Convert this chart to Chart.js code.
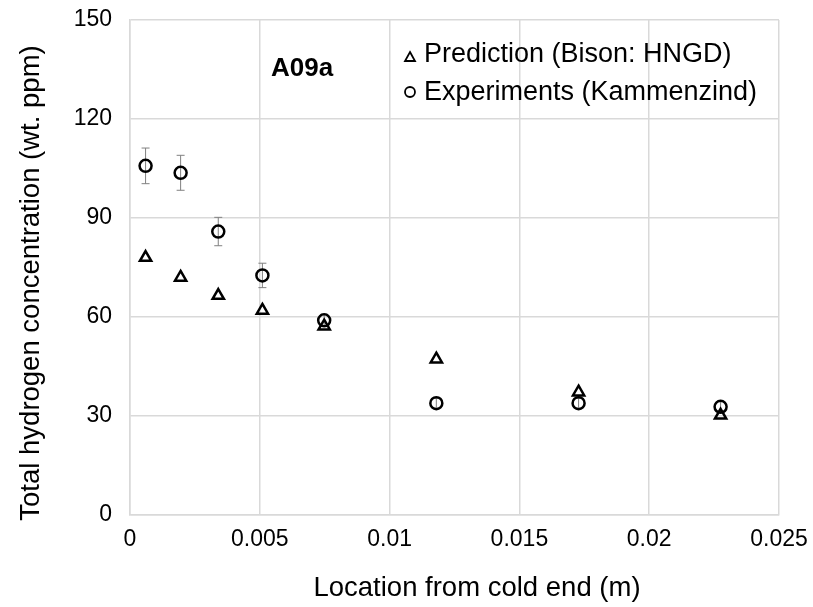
<!DOCTYPE html>
<html>
<head>
<meta charset="utf-8">
<script src="https://cdn.jsdelivr.net/npm/chart.js@4.4.1/dist/chart.umd.min.js"></script>
<style>
  html, body { margin: 0; padding: 0; background: #fff; }
  #wrap { width: 813px; height: 607px; }
</style>
</head>
<body>
<div id="wrap"><canvas id="chart"></canvas></div>
<script>
// Data
const locations = [0.0006, 0.00195, 0.0034, 0.0051, 0.00748, 0.0118, 0.01728, 0.02275]
const prediction = [78, 72, 66.5, 62, 57.2, 47.2, 37.2, 30.2]
const experiments = [105.8, 103.7, 85.9, 72.6, 59, 33.9, 33.9, 32.8]
const expError = [5.4, 5.3, 4.3, 3.7, 1.8, 1.5, 1.5, 1.5]
const xTicks = [0, 0.005, 0.01, 0.015, 0.02, 0.025]
const yTicks = [0, 30, 60, 90, 120, 150]
const xTitle = 'Location from cold end (m)'
const yTitle = 'Total hydrogen concentration (wt. ppm)'

const FONT = "'Liberation Sans', Arial, Helvetica, sans-serif"

toPoints = function(xs, ys){
  let pts = []
  for(let i = 0; i < xs.length; i++){
    pts.push({x: xs[i], y: ys[i]})
  }
  return pts
}

// error bars on the experiment points
const errorBars = {
  id: 'errorBars',
  beforeDatasetsDraw(chart){
    const ctx = chart.ctx
    const xs = chart.scales.x, ys = chart.scales.y
    ctx.save()
    ctx.strokeStyle = '#808080'
    ctx.lineWidth = 1
    for(let i = 0; i < locations.length; i++){
      const px = xs.getPixelForValue(locations[i])
      const top = ys.getPixelForValue(experiments[i] + expError[i])
      const bot = ys.getPixelForValue(experiments[i] - expError[i])
      ctx.beginPath()
      ctx.moveTo(px, top); ctx.lineTo(px, bot)
      ctx.moveTo(px - 4, top); ctx.lineTo(px + 4, top)
      ctx.moveTo(px - 4, bot); ctx.lineTo(px + 4, bot)
      ctx.stroke()
    }
    ctx.restore()
  }
}

// axis titles, label and legend
const annotations = {
  id: 'annotations',
  afterDraw(chart){
    const ctx = chart.ctx
    ctx.save()
    ctx.fillStyle = '#000'
    ctx.textBaseline = 'alphabetic'

    // axis titles (sit a bit off-centre in the reference)
    ctx.font = '27.5px ' + FONT
    ctx.textAlign = 'center'
    ctx.fillText(xTitle, 477, 596)
    ctx.save()
    ctx.translate(39, 283)
    ctx.rotate(-Math.PI / 2)
    ctx.fillText(yTitle, 0, 0)
    ctx.restore()

    ctx.textAlign = 'left'
    ctx.font = 'bold 26px ' + FONT
    ctx.fillText('A09a', 271, 76)

    ctx.font = '27px ' + FONT
    ctx.fillText('Prediction (Bison: HNGD)', 424, 62)
    ctx.fillText('Experiments (Kammenzind)', 424, 100)

    ctx.strokeStyle = '#000'
    ctx.lineWidth = 1.8
    ctx.beginPath()
    ctx.moveTo(410, 52); ctx.lineTo(415, 61); ctx.lineTo(405, 61); ctx.closePath()
    ctx.stroke()
    ctx.beginPath()
    ctx.arc(410, 92, 5, 0, Math.PI * 2)
    ctx.stroke()
    ctx.restore()
  }
}

const config = {
  type: 'scatter',
  data: {
    datasets: [{
      label: 'Prediction (Bison: HNGD)',
      data: toPoints(locations, prediction),
      pointStyle: 'triangle',
      pointRadius: 6.5,
      borderColor: '#000',
      backgroundColor: 'rgba(0,0,0,0)',
      borderWidth: 2.5
    }, {
      label: 'Experiments (Kammenzind)',
      data: toPoints(locations, experiments),
      pointStyle: 'circle',
      pointRadius: 6,
      borderColor: '#000',
      backgroundColor: 'rgba(0,0,0,0)',
      borderWidth: 2.5
    }]
  },
  options: {
    responsive: true,
    maintainAspectRatio: false,
    animation: false,
    layout: { padding: { top: 20, right: 34, left: 0, bottom: 0 } },
    plugins: {
      legend: { display: false },
      tooltip: { enabled: false }
    },
    scales: {
      x: {
        type: 'linear',
        min: 0, max: 0.025,
        afterBuildTicks: (s) => { s.ticks = xTicks.map(v => ({value: v})) },
        afterFit: (s) => { s.height = 92 },
        grid: { color: '#d9d9d9', lineWidth: 1.5, tickLength: 11, tickColor: 'rgba(0,0,0,0)' },
        border: { color: '#d9d9d9', width: 1.5 },
        ticks: {
          color: '#000',
          padding: 0,
          font: { family: FONT, size: 23 },
          callback: (v) => String(v)
        },
        title: { display: false }
      },
      y: {
        min: 0, max: 150,
        afterBuildTicks: (s) => { s.ticks = yTicks.map(v => ({value: v})) },
        afterFit: (s) => { s.width = 130 },
        grid: { color: '#d9d9d9', lineWidth: 1.5, tickLength: 18, tickColor: 'rgba(0,0,0,0)' },
        border: { color: '#d9d9d9', width: 1.5 },
        ticks: {
          color: '#000',
          padding: 0,
          font: { family: FONT, size: 23 }
        },
        title: { display: false }
      }
    }
  },
  plugins: [errorBars, annotations]
}

window.onload = () => {
  new Chart(document.getElementById('chart'), config)
}
</script>
</body>
</html>
